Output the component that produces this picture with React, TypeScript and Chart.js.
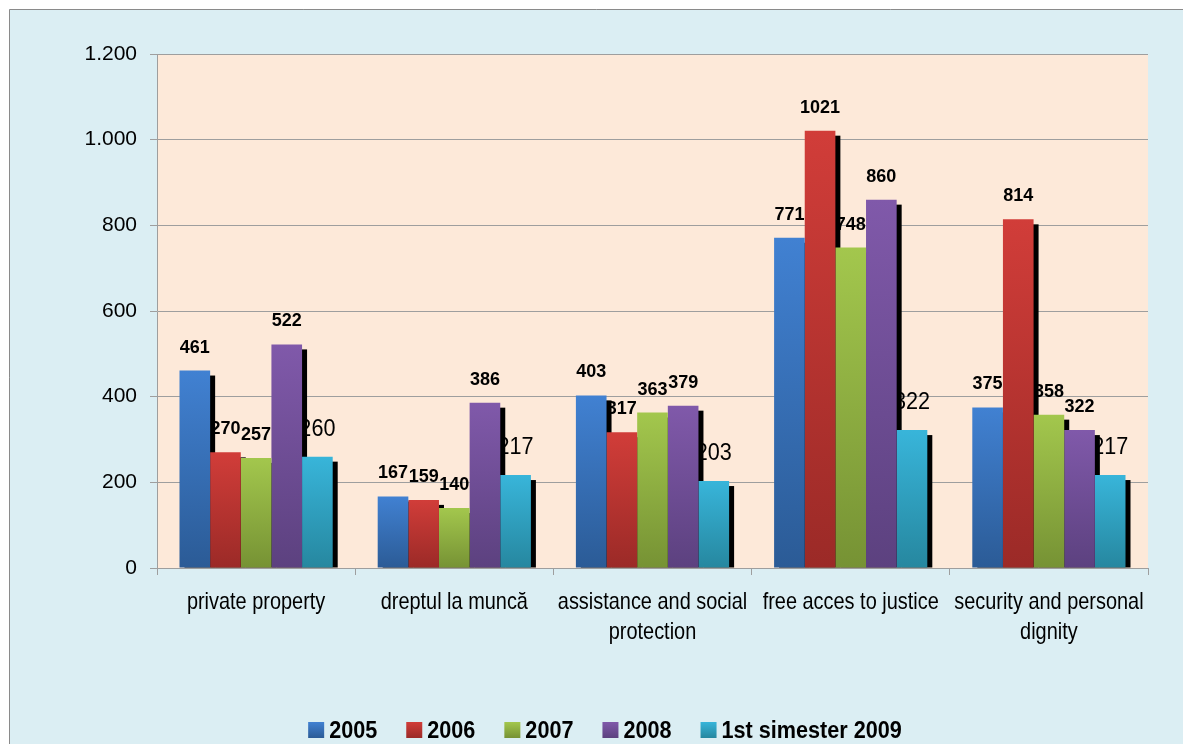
import React, { useEffect, useRef } from 'react';
import { Chart, registerables } from 'chart.js';

Chart.register(...registerables);

// ---- data ----
const categories: string[][] = [
  ['private property'],
  ['dreptul la muncă'],
  ['assistance and social', 'protection'],
  ['free acces to justice'],
  ['security and personal', 'dignity'],
];
const seriesNames = ['2005', '2006', '2007', '2008', '1st simester 2009'];
const values2005 = [461, 167, 403, 771, 375];
const values2006 = [270, 159, 317, 1021, 814];
const values2007 = [257, 140, 363, 748, 358];
const values2008 = [522, 386, 379, 860, 322];
const values2009 = [260, 217, 203, 322, 217];
const seriesValues = [values2005, values2006, values2007, values2008, values2009];
const yMin = 0;
const yMax = 1200;
const yStep = 200;

// ---- styles ----
const topColors = ['#4181D2', '#D13D39', '#A3C74D', '#8059AA', '#38B5DA'];
const bottomColors = ['#2B5B96', '#9B2A27', '#769234', '#5C417F', '#26879F'];
const FONT = '"Liberation Sans", Arial, sans-serif';
const OUTER_BG = '#DBEEF3';
const PLOT_BG = '#FDE9D9';
const GRID = '#9E9E9E';

const fmt = (v: number) => String(v).replace(/\B(?=(\d{3})+(?!\d))/g, '.');

function drawText(ctx: CanvasRenderingContext2D, text: string, x: number, y: number, font: string, sx: number, align: CanvasTextAlign) {
  ctx.save();
  ctx.font = font;
  ctx.textBaseline = 'alphabetic';
  ctx.textAlign = align;
  ctx.fillStyle = '#000';
  ctx.translate(x, y);
  ctx.scale(sx, 1);
  ctx.fillText(text, 0, 0);
  ctx.restore();
}

const framePlugin = {
  id: 'frame',
  beforeDraw(chart: any) {
    const { ctx, width, height, chartArea } = chart;
    ctx.save();
    ctx.fillStyle = '#FFFFFF';
    ctx.fillRect(0, 0, width, height);
    ctx.fillStyle = OUTER_BG;
    ctx.fillRect(9, 9, width, height);
    ctx.strokeStyle = '#8A8A8A';
    ctx.lineWidth = 1;
    ctx.beginPath();
    ctx.moveTo(9.5, height + 2);
    ctx.lineTo(9.5, 9.5);
    ctx.lineTo(width + 2, 9.5);
    ctx.stroke();
    ctx.fillStyle = PLOT_BG;
    ctx.fillRect(chartArea.left, chartArea.top, chartArea.right - chartArea.left, chartArea.bottom - chartArea.top);
    ctx.restore();
  },
};

const shadowLabelPlugin = {
  id: 'shadowLabel',
  beforeDatasetsDraw(chart: any) {
    const { ctx, chartArea } = chart;
    // data labels (drawn under shadows and bars, as in the original)
    chart.data.datasets.forEach((ds: any, di: number) => {
      const meta = chart.getDatasetMeta(di);
      meta.data.forEach((bar: any, i: number) => {
        const v = ds.data[i];
        if (di === 4) {
          drawText(ctx, String(v), bar.x, bar.y - 21, `24px ${FONT}`, 0.9, 'center');
        } else {
          drawText(ctx, String(v), bar.x, bar.y - 18, `bold 18px ${FONT}`, 1, 'center');
        }
      });
    });
    // shadows
    ctx.save();
    ctx.beginPath();
    ctx.rect(chartArea.left, chartArea.top, chartArea.right - chartArea.left + 10, chartArea.bottom - chartArea.top);
    ctx.clip();
    ctx.fillStyle = '#000';
    chart.data.datasets.forEach((_ds: any, di: number) => {
      const meta = chart.getDatasetMeta(di);
      meta.data.forEach((bar: any) => {
        const w = bar.width;
        const left = bar.x - w / 2 + 5;
        const top = bar.y + 5;
        ctx.fillRect(left, top, w, bar.base - top);
      });
    });
    ctx.restore();
  },
  afterDraw(chart: any) {
    const { ctx } = chart;
    const xs = chart.scales.x;
    // category labels
    categories.forEach((lines, i) => {
      const cx = xs.getPixelForValue(i);
      lines.forEach((ln, li) => {
        drawText(ctx, ln, cx, 608.5 + li * 30, `24px ${FONT}`, 0.83, 'center');
      });
    });
    // legend
    const lf = `bold 23px ${FONT}`;
    const sx = 0.94;
    const box = 16;
    const gap = 5;
    const itemGap = 29;
    ctx.save();
    ctx.font = lf;
    const widths = seriesNames.map((n) => ctx.measureText(n).width * sx);
    ctx.restore();
    const total = widths.reduce((a, w) => a + box + gap + w, 0) + itemGap * (seriesNames.length - 1);
    let x = 605 - total / 2;
    const boxTop = 722;
    seriesNames.forEach((n, i) => {
      const g = ctx.createLinearGradient(0, boxTop, 0, boxTop + box);
      g.addColorStop(0, topColors[i]);
      g.addColorStop(1, bottomColors[i]);
      ctx.save();
      ctx.fillStyle = g;
      ctx.fillRect(x, boxTop, box, box);
      ctx.restore();
      drawText(ctx, n, x + box + gap, 738, lf, sx, 'left');
      x += box + gap + widths[i] + itemGap;
    });
  },
};

export default function App() {
  const ref = useRef<HTMLCanvasElement | null>(null);
  useEffect(() => {
    document.body.style.margin = '0';
    const canvas = ref.current!;
    const gradFor = (i: number) => (c: any) => {
      const chart = c.chart;
      const area = chart.chartArea;
      if (!area || c.parsed == null) return topColors[i];
      const y = chart.scales.y.getPixelForValue(c.parsed.y);
      const g = chart.ctx.createLinearGradient(0, y, 0, area.bottom);
      g.addColorStop(0, topColors[i]);
      g.addColorStop(1, bottomColors[i]);
      return g;
    };
    const chart = new Chart(canvas, {
      type: 'bar',
      data: {
        labels: categories.map((c) => c.join(' ')),
        datasets: seriesValues.map((vals, i) => ({
          label: seriesNames[i],
          data: vals,
          backgroundColor: gradFor(i),
          borderWidth: 0,
          categoryPercentage: 0.773,
          barPercentage: 1,
        })),
      },
      options: {
        responsive: false,
        animation: false,
        layout: { padding: { left: 0, right: 35, top: 54, bottom: 0 } },
        plugins: { legend: { display: false }, tooltip: { enabled: false } },
        scales: {
          x: {
            grid: { display: true, drawOnChartArea: false, drawTicks: true, tickLength: 7, color: GRID, offset: true },
            border: { display: true, color: GRID },
            ticks: { display: false },
            afterFit: (s: any) => { s.height = 176; },
          },
          y: {
            min: yMin,
            max: yMax,
            ticks: {
              stepSize: yStep,
              font: { family: FONT, size: 21 },
              color: '#000',
              padding: 13,
              callback: (v: any) => fmt(Number(v)),
            },
            grid: { color: GRID, tickLength: 7, drawTicks: true },
            border: { display: true, color: GRID },
            afterFit: (s: any) => { s.width = 157; },
          },
        },
      },
      plugins: [framePlugin, shadowLabelPlugin],
    });
    return () => chart.destroy();
  }, []);
  return (
    <div style={{ width: 1183, height: 744 }}>
      <canvas ref={ref} width={1183} height={744} style={{ display: 'block' }} />
    </div>
  );
}
